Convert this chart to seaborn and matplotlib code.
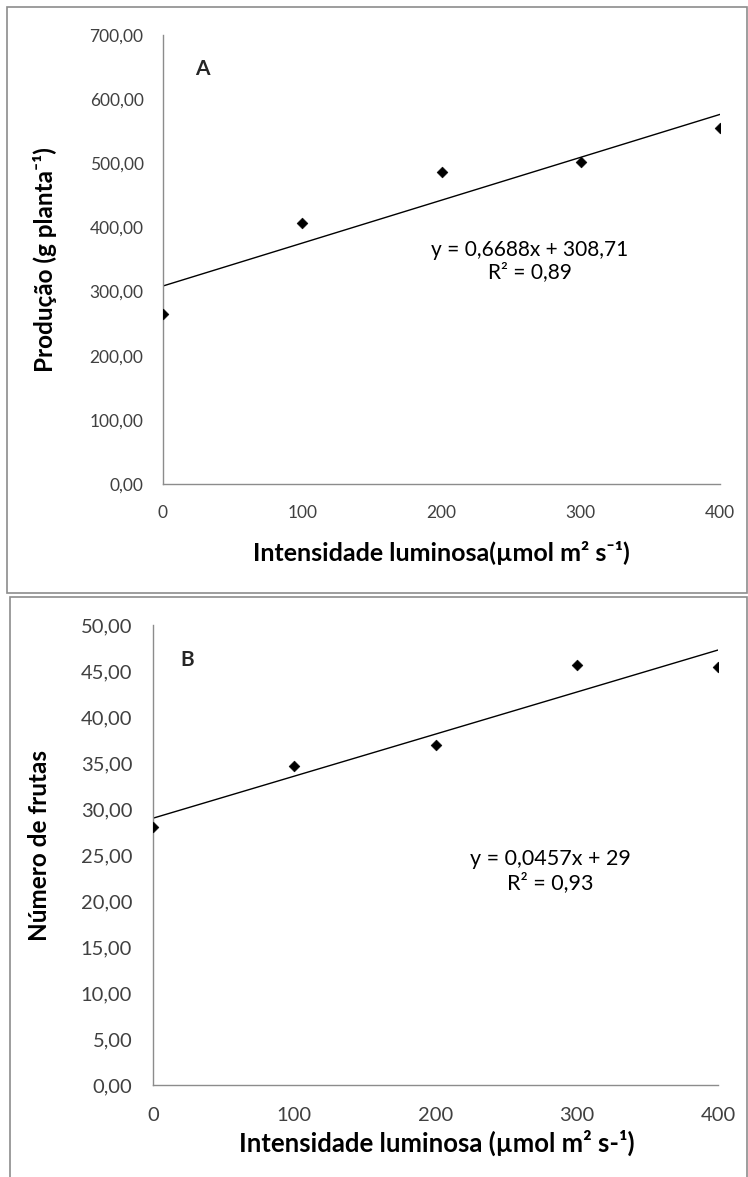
import numpy as np
import pandas as pd
import seaborn as sns
import matplotlib.pyplot as plt
from matplotlib.patches import Rectangle
from matplotlib.ticker import FuncFormatter

# light intensity levels (x) and measured responses
luz = [0, 100, 200, 300, 400]
producao = [265, 407, 486, 502, 555]        # panel A, g planta-1
frutas = [28.0, 34.7, 37.0, 45.7, 45.4]     # panel B, number of fruits

# published fits
fit_a = (0.6688, 308.71)
fit_b = (0.0457, 29.0)
eq_a = ["y = 0,6688x + 308,71", "R² = 0,89"]
eq_b = ["y = 0,0457x + 29", "R² = 0,93"]

sns.set_style("white")
plt.rcParams['font.family'] = ['Lato', 'DejaVu Sans']

fig = plt.figure(figsize=(7.48, 11.77), dpi=100)

# panel frames
fig.add_artist(Rectangle((7 / 748, 1 - 593 / 1177), 740 / 748, 586 / 1177,
                         transform=fig.transFigure, fill=False, ec='#8c8c8c', lw=1.2))
fig.add_artist(Rectangle((10 / 748, -0.01), 737 / 748, 1 - 597 / 1177 + 0.01,
                         transform=fig.transFigure, fill=False, ec='#8c8c8c', lw=1.2))

comma = FuncFormatter(lambda v, p: f"{v:.2f}".replace('.', ','))
tick_col = '#404040'


def panel(ax, y, fit, eq, ymax, ystep, ylabel, xlabel, letter, letter_xy, eq_xy,
          fs, eq_fs, xl_fs, yl_fs, xl_xy, yl_xy, tlen):
    df = pd.DataFrame({'x': luz, 'y': y})
    xs = np.array([0, 400])
    sns.lineplot(x=xs, y=fit[0] * xs + fit[1], ax=ax, color='black', lw=1)
    sns.scatterplot(data=df, x='x', y='y', ax=ax, marker='D', s=30, color='black',
                    edgecolor='black', zorder=3)
    ax.set_xlim(0, 400)
    ax.set_ylim(0, ymax)
    ax.set_xticks(luz)
    ax.set_yticks(np.arange(0, ymax + ystep / 2, ystep))
    ax.yaxis.set_major_formatter(comma)
    for s in ['top', 'right']:
        ax.spines[s].set_visible(False)
    for s in ['left', 'bottom']:
        ax.spines[s].set_color('#8c8c8c')
        ax.spines[s].set_linewidth(1)
    ax.tick_params(axis='both', direction='out', length=tlen, width=1, color='#8c8c8c',
                   labelsize=fs, labelcolor=tick_col)
    ax.tick_params(axis='y', pad=8)
    ax.tick_params(axis='x', pad=9)
    ax.set_xlabel(xlabel, fontsize=xl_fs, fontweight='bold', color='black')
    ax.set_ylabel(ylabel, fontsize=yl_fs, fontweight='bold', color='black')
    ax.xaxis.label.set_va('center')
    ax.yaxis.label.set_va('center')
    ax.xaxis.set_label_coords(*xl_xy)
    ax.yaxis.set_label_coords(*yl_xy)
    ax.text(*letter_xy, letter, transform=ax.transAxes, fontsize=15, fontweight='bold',
            ha='center', va='center')
    ax.text(eq_xy[0], eq_xy[1], eq[0] + "\n" + eq[1], transform=ax.transAxes,
            ha='center', va='center', fontsize=eq_fs, color='black', linespacing=1.15)


ax_a = fig.add_axes([163 / 748, 1 - 484 / 1177, 557 / 748, 449 / 1177])
panel(ax_a, producao, fit_a, eq_a, 700, 100, "Produção (g planta⁻¹)",
      "Intensidade luminosa(µmol m² s⁻¹)", "A", (0.07, 0.925), (0.659, 0.497),
      12.5, 15, 18, 17.5, (0.499, -0.154), (-0.212, 0.5), 6)

ax_b = fig.add_axes([153 / 748, 1 - 1085 / 1177, 565 / 748, 460 / 1177])
panel(ax_b, frutas, fit_b, eq_b, 50, 5, "Número de frutas",
      "Intensidade luminosa (µmol m² s-¹)", "B", (0.06, 0.925), (0.703, 0.465),
      14.5, 15.5, 18.5, 17.5, (0.503, -0.126), (-0.2, 0.52), 7)

fig.savefig("out.png", dpi=100)
